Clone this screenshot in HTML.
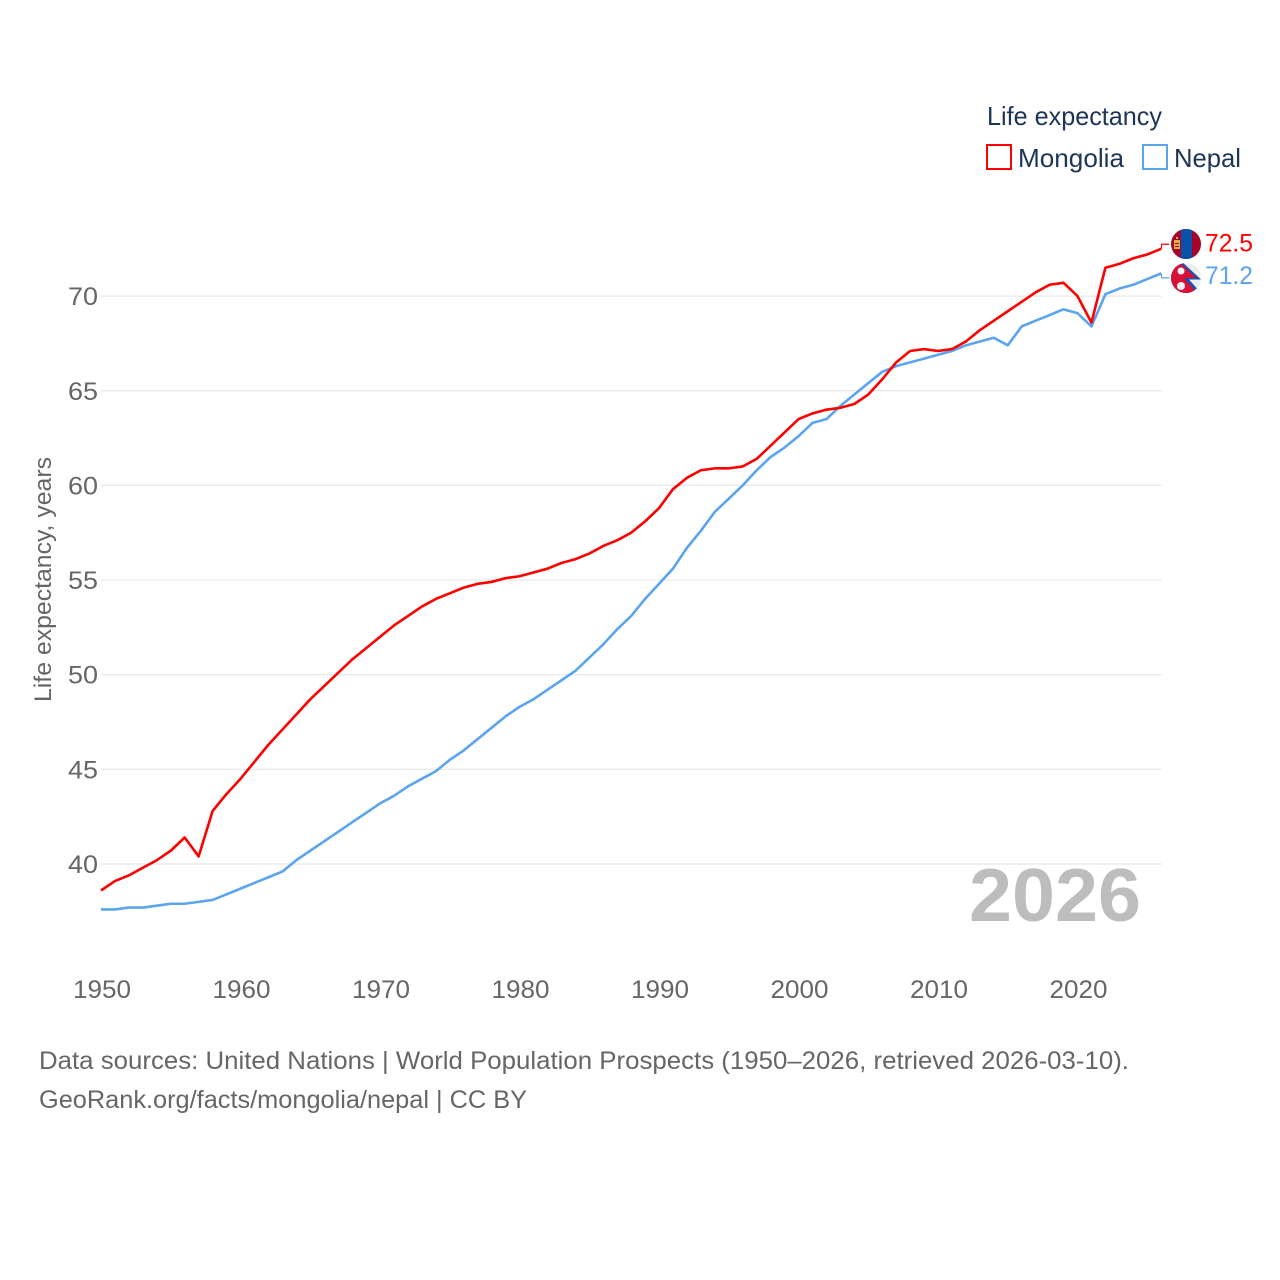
<!DOCTYPE html>
<html lang="en">
<head>
<meta charset="utf-8">
<title>Life expectancy: Mongolia and Nepal</title>
<style>
html,body{margin:0;padding:0;background:#fff;width:1280px;height:1280px;overflow:hidden}
svg{display:block}
text{font-family:"Liberation Sans",sans-serif}
</style>
</head>
<body>
<svg id="chart" xmlns="http://www.w3.org/2000/svg" width="1280" height="1280" viewBox="0 0 1280 1280">
  <defs>
    <clipPath id="clip-mongolia"><circle cx="1186" cy="244" r="15"/></clipPath>
    <clipPath id="clip-nepal"><circle cx="1186" cy="278" r="15"/></clipPath>
  </defs>
  <rect x="0" y="0" width="1280" height="1280" fill="#fff"/>

  <g id="grid"></g>
  <g id="ticks"></g>

  <text transform="translate(51,702) rotate(-90)" font-size="24" fill="#666" textLength="245" lengthAdjust="spacingAndGlyphs">Life expectancy, years</text>

  <text x="969" y="921" font-size="75" font-weight="700" fill="#bdbdbd" textLength="172" lengthAdjust="spacingAndGlyphs">2026</text>

  <g id="series"></g>

  <g>
    <text x="987" y="125" font-size="26" fill="#1d3557" textLength="175" lengthAdjust="spacingAndGlyphs">Life expectancy</text>
    <g>
      <rect x="987" y="145" width="24" height="24" fill="#fff" stroke="#ff0000" stroke-width="2"/>
      <text x="1018" y="167" font-size="26" fill="#1d3557" textLength="106" lengthAdjust="spacingAndGlyphs">Mongolia</text>
    </g>
    <g>
      <rect x="1143" y="145" width="24" height="24" fill="#fff" stroke="#5ba4ee" stroke-width="2"/>
      <text x="1174" y="167" font-size="26" fill="#1d3557" textLength="67" lengthAdjust="spacingAndGlyphs">Nepal</text>
    </g>
  </g>

  <g clip-path="url(#clip-mongolia)">
    <rect x="1171" y="229" width="30" height="30" fill="#a3052b"/>
    <rect x="1181" y="229" width="11" height="30" fill="#0a50a8"/>
    <rect x="1174" y="240" width="6" height="9" fill="#e0b040"/>
    <rect x="1176" y="237" width="2" height="2" fill="#e0b040"/>
    <rect x="1175" y="243" width="4" height="1" fill="#a3052b"/>
    <rect x="1175" y="246" width="4" height="1" fill="#a3052b"/>
  </g>
  <g clip-path="url(#clip-nepal)">
    <rect x="1171" y="263" width="30" height="30" fill="#eeeeee"/>
    <polygon points="1171,260 1180,260 1201,279.500 1189,279.500 1201,293 1171,296" fill="#1f4fa8"/>
    <polygon points="1171,260 1179,262 1196,278 1184,278 1197,293 1171,296" fill="#d8103a"/>
    <circle cx="1181" cy="271" r="3.500" fill="#f4f4f4"/>
    <circle cx="1181" cy="286" r="4" fill="#f4f4f4"/>
  </g>

  <g id="labels"></g>

  <text x="39" y="1069" font-size="25" fill="#666" textLength="1090" lengthAdjust="spacingAndGlyphs">Data sources: United Nations | World Population Prospects (1950–2026, retrieved 2026-03-10).</text>
  <text x="39" y="1108" font-size="25" fill="#666" textLength="488" lengthAdjust="spacingAndGlyphs">GeoRank.org/facts/mongolia/nepal | CC BY</text>
</svg>

<script>
const startYear = 1950;
const mongolia = [38.6,39.1,39.4,39.8,40.2,40.7,41.4,40.4,42.8,43.7,44.5,45.4,46.3,47.1,47.9,48.7,49.4,50.1,50.8,51.4,52.0,52.6,53.1,53.6,54.0,54.3,54.6,54.8,54.9,55.1,55.2,55.4,55.6,55.9,56.1,56.4,56.8,57.1,57.5,58.1,58.8,59.8,60.4,60.8,60.9,60.9,61.0,61.4,62.1,62.8,63.5,63.8,64.0,64.1,64.3,64.8,65.6,66.5,67.1,67.2,67.1,67.2,67.6,68.2,68.7,69.2,69.7,70.2,70.6,70.7,70.0,68.6,71.5,71.7,72.0,72.2,72.5];
const nepal = [37.6,37.6,37.7,37.7,37.8,37.9,37.9,38.0,38.1,38.4,38.7,39.0,39.3,39.6,40.2,40.7,41.2,41.7,42.2,42.7,43.2,43.6,44.1,44.5,44.9,45.5,46.0,46.6,47.2,47.8,48.3,48.7,49.2,49.7,50.2,50.9,51.6,52.4,53.1,54.0,54.8,55.6,56.7,57.6,58.6,59.3,60.0,60.8,61.5,62.0,62.6,63.3,63.5,64.2,64.8,65.4,66.0,66.3,66.5,66.7,66.9,67.1,67.4,67.6,67.8,67.4,68.4,68.7,69.0,69.3,69.1,68.4,70.1,70.4,70.6,70.9,71.2];
const yTicks = [40,45,50,55,60,65,70];
const xTicks = [1950,1960,1970,1980,1990,2000,2010,2020];
const mongoliaLabel = "72.5";
const nepalLabel = "71.2";

const NS = "http://www.w3.org/2000/svg";
function xScale(year){ return 101 + (year - 1950) * 13.95; }
function yScale(v){ return 864 - (v - 40) * 18.93; }
function make(tag, attrs, parent, txt){
  const el = document.createElementNS(NS, tag);
  for (const k in attrs) el.setAttribute(k, attrs[k]);
  if (txt !== undefined) el.textContent = txt;
  parent.appendChild(el);
  return el;
}
const gridG = document.getElementById('grid');
const tickG = document.getElementById('ticks');
const seriesG = document.getElementById('series');
const labelG = document.getElementById('labels');

yTicks.forEach(function(t){
  const line = make('line', {x1:101, x2:1162, y1:yScale(t), y2:yScale(t), stroke:'#e8e8e8', 'stroke-width':1.2}, gridG);
  
  
  const lab = make('text', {x:98, y:yScale(t)+9, 'text-anchor':'end', 'font-size':25, fill:'#666', textLength:30, lengthAdjust:'spacingAndGlyphs'}, tickG, String(t));
  
  
});
xTicks.forEach(function(t){
  const lab = make('text', {x:xScale(t)+1, y:998, 'text-anchor':'middle', 'font-size':25, fill:'#666', textLength:58, lengthAdjust:'spacingAndGlyphs'}, tickG, String(t));
  
  
});

function pathFor(values){
  return values.map(function(v,i){
    return (i ? 'L' : 'M') + xScale(startYear + i).toFixed(2) + ' ' + yScale(v).toFixed(2);
  }).join(' ');
}
const nepalLine = make('path', {d:pathFor(nepal), fill:'none', stroke:'#5ba4ee', 'stroke-width':2.6, 'stroke-linejoin':'round'}, seriesG);


const mongoliaLine = make('path', {d:pathFor(mongolia), fill:'none', stroke:'#ff0000', 'stroke-width':2.6, 'stroke-linejoin':'round'}, seriesG);



const lastYear = startYear + mongolia.length - 1;
const endX = xScale(lastYear);
const redEnd = yScale(mongolia[mongolia.length - 1]);
const blueEnd = yScale(nepal[nepal.length - 1]);

const redConn = make('path', {d:'M'+endX+' '+redEnd+' L'+(endX+0.5)+' '+(redEnd-4.5)+' L'+(endX+8)+' '+(redEnd-4.5), fill:'none', stroke:'#ff0000', 'stroke-width':1.2}, labelG);


const blueConn = make('path', {d:'M'+endX+' '+blueEnd+' L'+(endX+0.5)+' '+(blueEnd+4.5)+' L'+(endX+8)+' '+(blueEnd+4.5), fill:'none', stroke:'#5ba4ee', 'stroke-width':1.2}, labelG);



const redLab = make('text', {x:1205, y:redEnd+2.5, 'font-size':25, fill:'#ff0000', textLength:48, lengthAdjust:'spacingAndGlyphs'}, labelG, mongoliaLabel);


const blueLab = make('text', {x:1205, y:blueEnd+10.5, 'font-size':25, fill:'#5ba4ee', textLength:48, lengthAdjust:'spacingAndGlyphs'}, labelG, nepalLabel);


</script>
</body>
</html>
